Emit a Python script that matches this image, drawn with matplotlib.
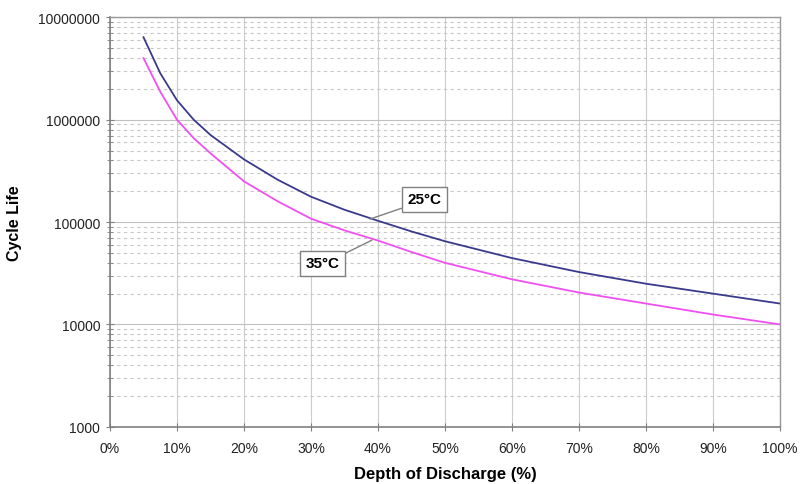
import matplotlib.pyplot as plt
from matplotlib.ticker import LogLocator, NullFormatter

plt.rcParams['font.family'] = ['Liberation Sans', 'DejaVu Sans']

# depth of discharge (%) and cycle life
dod = [5, 7.5, 10, 12.5, 15, 20, 25, 30, 35, 40, 45, 50, 60, 70, 80, 90, 100]
life_25c = [6.4e6, 2.85e6, 1.55e6, 1.0e6, 7.1e5, 4.1e5, 2.6e5, 1.77e5, 1.32e5,
            1.03e5, 8.1e4, 6.5e4, 4.45e4, 3.25e4, 2.5e4, 2.0e4, 1.6e4]
life_35c = [4.0e6, 1.88e6, 1.0e6, 6.6e5, 4.7e5, 2.5e5, 1.6e5, 1.08e5, 8.3e4,
            6.6e4, 5.1e4, 4.0e4, 2.76e4, 2.05e4, 1.6e4, 1.25e4, 1.0e4]
x_ticks = [0, 10, 20, 30, 40, 50, 60, 70, 80, 90, 100]
y_ticks = [1000, 10000, 100000, 1000000, 10000000]

fig = plt.figure(figsize=(8, 4.85), dpi=100)
ax = fig.add_axes([0.1375, 0.118, 0.8375, 0.844])

ax.plot(dod, life_25c, color='#3a3a8c', lw=1.3, zorder=3)
ax.plot(dod, life_35c, color='#f050f0', lw=1.3, zorder=3)

ax.set_yscale('log')
ax.set_xlim(0, 100)
ax.set_ylim(1000, 1e7)
ax.set_xticks(x_ticks)
ax.set_xticklabels(['%d%%' % v for v in x_ticks])
ax.set_yticks(y_ticks)
ax.set_yticklabels(['%d' % v for v in y_ticks])
ax.yaxis.set_minor_locator(LogLocator(base=10, subs=range(2, 10)))
ax.yaxis.set_minor_formatter(NullFormatter())

ax.grid(True, axis='x', color='#cccccc', lw=0.8)
ax.grid(True, axis='y', which='major', color='#c0c0c0', lw=0.8)
ax.grid(True, axis='y', which='minor', color='#c8c8c8', lw=0.8, ls=(0, (3, 3)))
ax.set_axisbelow(True)

for side in ['left', 'bottom']:
    ax.spines[side].set_color('#808080')
    ax.spines[side].set_linewidth(1.2)
for side in ['top', 'right']:
    ax.spines[side].set_color('#999999')
    ax.spines[side].set_linewidth(1.0)

ax.tick_params(axis='both', which='major', direction='inout', length=6,
               color='#808080', labelsize=10, labelcolor='#222222', pad=4)
ax.tick_params(axis='y', which='minor', direction='inout', length=4,
               color='#808080')
ax.tick_params(axis='x', which='major', pad=7)

ax.set_xlabel('Depth of Discharge (%)', fontsize=12, fontweight='bold', labelpad=8)
ax.set_ylabel('Cycle Life', fontsize=11.5, fontweight='bold', labelpad=12)

box = dict(boxstyle='square,pad=0.35', fc='white', ec='#808080', lw=1)
ax.annotate('25°C', xy=(38.8, 1.07e5), xytext=(46.9, 1.67e5),
            fontsize=11, fontweight='bold', ha='center', va='center', bbox=box,
            arrowprops=dict(arrowstyle='-', color='#808080', lw=1,
                            relpos=(0, 0), shrinkA=0, shrinkB=0))
ax.annotate('35°C', xy=(39.1, 6.67e4), xytext=(31.7, 3.96e4),
            fontsize=11, fontweight='bold', ha='center', va='center', bbox=box,
            arrowprops=dict(arrowstyle='-', color='#808080', lw=1,
                            relpos=(1, 1), shrinkA=0, shrinkB=0))

plt.savefig('out.png', dpi=100)
